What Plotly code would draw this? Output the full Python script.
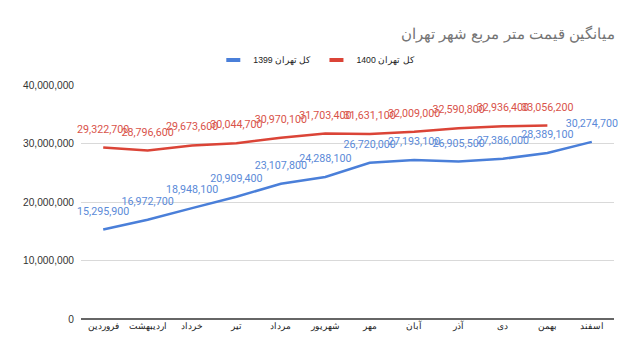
import plotly.graph_objects as go

months = ["فروردین", "اردیبهشت", "خرداد", "تیر", "مرداد", "شهریور", "مهر", "آبان", "آذر", "دی", "بهمن", "اسفند"]
values_1399 = [15295900, 16972700, 18948100, 20909400, 23107800, 24288100, 26720000, 27193100, 26905500, 27386000, 28389100, 30274700]
values_1400 = [29322700, 28796600, 29673600, 30044700, 30970100, 31703400, 31631100, 32009000, 32590800, 32936400, 33056200]
name_1399 = "کل تهران 1399"
name_1400 = "کل تهران 1400"
title_text = "میانگین قیمت متر مربع شهر تهران"

blue = "#4a7fd9"
red = "#db4437"

fig = go.Figure()
for vals, name, col, tcol in [(values_1399, name_1399, blue, "#5b8ad8"),
                              (values_1400, name_1400, red, "#d9534a")]:
    fig.add_trace(go.Scatter(
        x=months[:len(vals)], y=vals, name=name, mode="lines+markers+text",
        line=dict(color=col, width=2.5),
        marker=dict(size=18, color="rgba(0,0,0,0)"),
        text=[f"{v:,}" for v in vals], textposition="top center",
        textfont=dict(family="Roboto", size=10.7, color=tcol),
        cliponaxis=False, showlegend=False,
    ))
# legend entries (short thick swatches like the reference)
for name, col in [(name_1399, blue), (name_1400, red)]:
    fig.add_trace(go.Scatter(
        x=[None], y=[None], name=name, mode="markers",
        marker=dict(symbol="line-ew", size=10, line=dict(color=col, width=4)),
        showlegend=True,
    ))

fig.update_layout(
    width=640, height=364,
    margin=dict(l=81, r=26, t=85, b=45, autoexpand=False),
    paper_bgcolor="white", plot_bgcolor="white",
    font=dict(family="Liberation Sans, Arial", color="#333"),
    title=dict(text=title_text, x=615/640, xref="container", xanchor="right",
               y=1 - 34/364, yref="container", yanchor="middle",
               font=dict(family="Liberation Sans, Arial", size=15, color="#757575")),
    legend=dict(orientation="h", x=0.495, xref="container", xanchor="center",
                y=1 - 60/364, yref="container", yanchor="middle",
                font=dict(family="Liberation Sans, Arial", size=8.7, color="#222"),
                traceorder="normal", itemwidth=30),
    showlegend=True,
)
fig.update_xaxes(showgrid=False, showline=False, ticks="", tickfont=dict(size=9, color="#222"),
                 range=[-0.5, 11.5], fixedrange=True, automargin=False)
fig.update_yaxes(range=[0, 40000000], tickvals=[0, 10000000, 20000000, 30000000, 40000000],
                 tickformat=",d", showgrid=True, gridcolor="#d9d9d9", gridwidth=1,
                 zeroline=True, zerolinecolor="#666666", zerolinewidth=2,
                 tickfont=dict(size=10.2, color="#333"), ticks="", ticklen=0,
                 ticklabelstandoff=6, automargin=False)

fig.write_html("out.html", config={"displayModeBar": False},
               post_script="document.body.style.margin='0px';")
